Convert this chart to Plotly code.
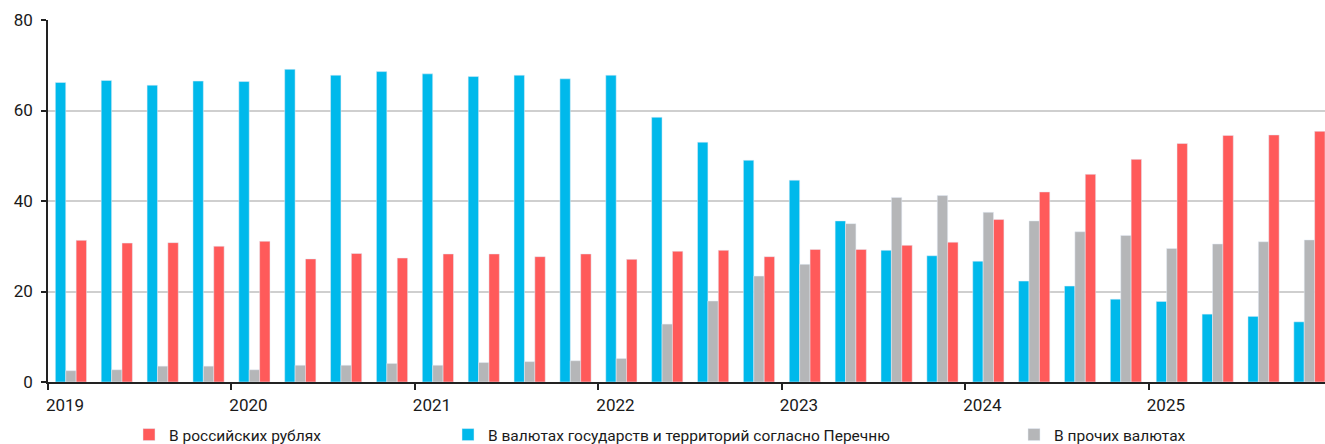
import plotly.graph_objects as go

# Quarterly periods, 2019 Q1 – 2025 Q4
periods = [f"{y} Q{q}" for y in range(2019, 2026) for q in range(1, 5)]
years = ["2019", "2020", "2021", "2022", "2023", "2024", "2025"]

rub = [31.3, 30.7, 30.8, 30.0, 31.1, 27.2, 28.4, 27.4,
       28.3, 28.3, 27.7, 28.3, 27.1, 28.9, 29.1, 27.7,
       29.3, 29.3, 30.2, 30.9, 35.9, 42.0, 45.9, 49.2,
       52.7, 54.5, 54.6, 55.4]
listed = [66.2, 66.65, 65.6, 66.5, 66.4, 69.1, 67.8, 68.6,
          68.1, 67.5, 67.8, 67.0, 67.8, 58.5, 53.0, 49.0,
          44.6, 35.6, 29.1, 27.9, 26.7, 22.3, 21.2, 18.3,
          17.8, 15.0, 14.5, 13.3]
other = [2.5, 2.7, 3.5, 3.5, 2.7, 3.7, 3.7, 4.1,
         3.7, 4.3, 4.5, 4.7, 5.2, 12.8, 17.9, 23.4,
         26.0, 35.0, 40.8, 41.2, 37.5, 35.6, 33.2, 32.4,
         29.5, 30.5, 31.0, 31.4]

names = ["В российских рублях",
         "В валютах государств и территорий согласно Перечню",
         "В прочих валютах"]
colors = {"rub": "#FF5A5A", "listed": "#00B9EB", "other": "#B5B6B8"}

FONT = "Roboto, sans-serif"
TXT = "#1a1a1a"

x = list(range(len(periods)))

fig = go.Figure()
# bar order inside each group: listed, other, rub
fig.add_trace(go.Bar(x=x, y=listed, name=names[1], marker_color=colors["listed"],
                     legend="legend2", showlegend=True, hovertext=periods))
fig.add_trace(go.Bar(x=x, y=other, name=names[2], marker_color=colors["other"],
                     legend="legend3", showlegend=True, hovertext=periods))
fig.add_trace(go.Bar(x=x, y=rub, name=names[0], marker_color=colors["rub"],
                     legend="legend", showlegend=True, hovertext=periods))

W, H = 1325, 444
ML, MT, MB = 48, 20, 62
plot_w = W - ML
slot = 45.87

leg_common = dict(orientation="h", xref="container", yref="container",
                  yanchor="middle", y=1 - 435 / H, xanchor="left",
                  font=dict(family=FONT, size=15.5, color=TXT),
                  bgcolor="rgba(0,0,0,0)", itemwidth=30)

fig.update_layout(
    width=W, height=H,
    margin=dict(l=ML, r=0, t=MT, b=MB),
    paper_bgcolor="white", plot_bgcolor="white",
    barmode="group", bargap=0.32, bargroupgap=0,
    showlegend=True,
    font=dict(family=FONT, size=17, color=TXT),
    legend=dict(**leg_common, x=129 / W),
    legend2=dict(**leg_common, x=448 / W),
    legend3=dict(**leg_common, x=1014 / W),
    xaxis=dict(
        range=[-0.5, -0.5 + plot_w / slot],
        tickmode="array",
        tickvals=[-0.5 + 4 * i for i in range(len(years))],
        ticktext=years,
        ticks="outside", ticklen=6, tickwidth=1.5, tickcolor="#222",
        ticklabelshift=17, ticklabelstandoff=1,
        showgrid=False, showline=True, linecolor="#222", linewidth=1.5,
        zeroline=False, automargin=False,
        tickfont=dict(family=FONT, size=17, color=TXT),
    ),
    yaxis=dict(
        range=[0, 80], tickvals=[0, 20, 40, 60, 80],
        ticks="outside", ticklen=5, tickwidth=1.5, tickcolor="#222",
        ticklabelstandoff=5,
        showgrid=True, gridcolor="#CFCFCF", gridwidth=1.5,
        showline=True, linecolor="#222", linewidth=1.5,
        zeroline=False, automargin=False,
        tickfont=dict(family=FONT, size=17, color=TXT),
    ),
)

fig.write_html("out.html")
